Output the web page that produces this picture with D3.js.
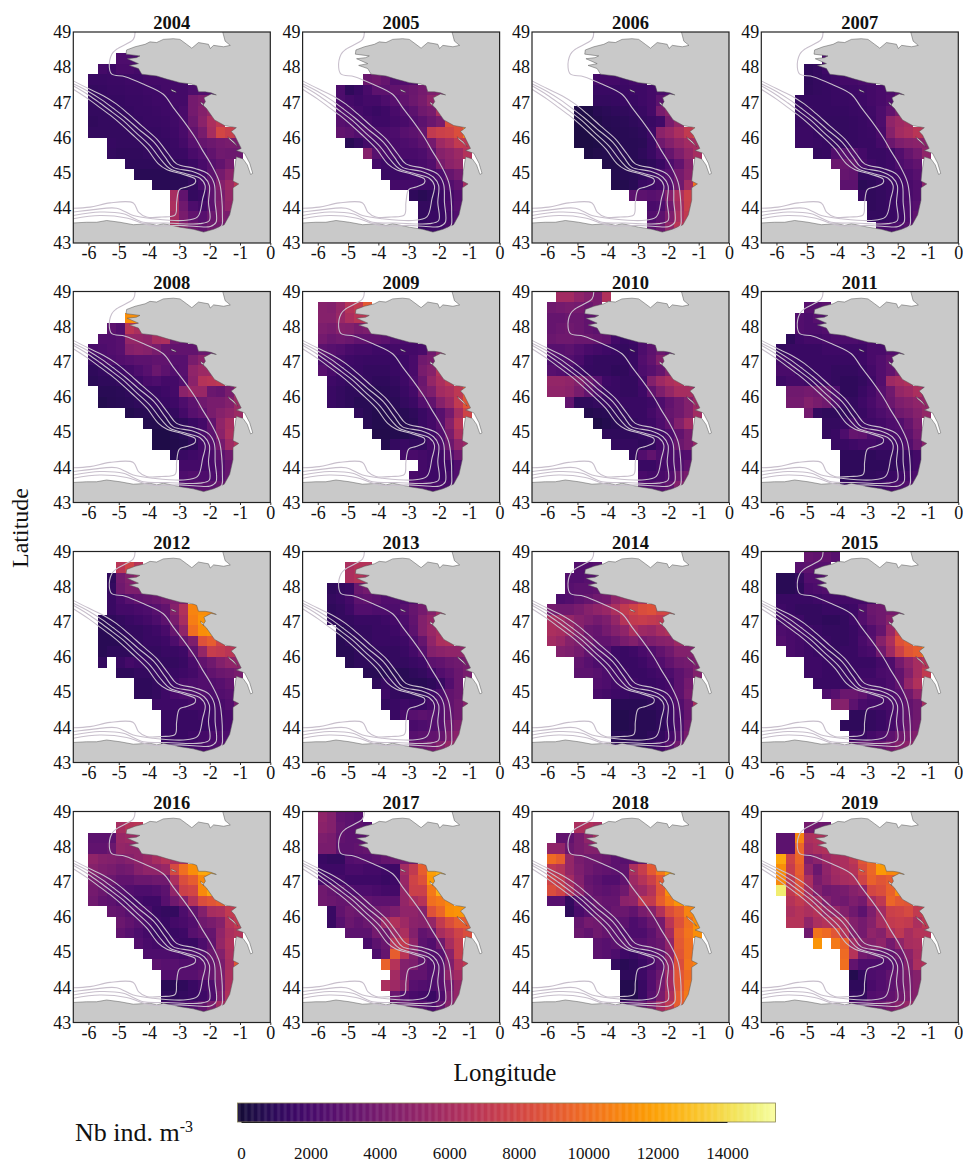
<!DOCTYPE html>
<html>
<head>
<meta charset="utf-8">
<script src="https://cdn.jsdelivr.net/npm/d3@7"></script>
<style>
  body { margin: 0; background: #fff; }
  text { font-family: "Liberation Serif", serif; fill: #111; }
</style>
</head>
<body>
<div id="chart"></div>
<script>
// declare constants
const FRAME_WIDTH = 963;
const FRAME_HEIGHT = 1165;
const PANEL_WIDTH = 197;
const PANEL_HEIGHT = 211;
const COL_LEFT = [73.3, 302.6, 532, 761.3];
const ROW_TOP = [32, 291.5, 551.5, 811.5];
const CELL = 0.3;
const UNIT = 100;
const _ = null;

const years = [2004, 2005, 2006, 2007, 2008, 2009, 2010, 2011, 2012, 2013, 2014, 2015, 2016, 2017, 2018, 2019];
const xTicks = [-6, -5, -4, -3, -2, -1, 0];
const yTicks = [43, 44, 45, 46, 47, 48, 49];
const legendTicks = [0, 2000, 4000, 6000, 8000, 10000, 12000, 14000];

// west edge of each grid column, north edge of each grid row
const lons = [-6, -5.7, -5.4, -5.1, -4.8, -4.5, -4.2, -3.9, -3.6, -3.3, -3, -2.7, -2.4, -2.1, -1.8, -1.5, -1.2];
const lats = [49, 48.7, 48.4, 48.1, 47.8, 47.5, 47.2, 46.9, 46.6, 46.3, 46, 45.7, 45.4, 45.1, 44.8, 44.5, 44.2, 43.9, 43.6];

const g2004 = [[],[],
[_,_,_,22,22,20],
[_,18,16,20,20,18],
[14,14,15,15,16,16,18,18,18,18,18],
[12,13,14,14,15,15,16,16,18,18,18,22,24,24],
[12,12,13,13,14,14,15,16,16,18,18,38,42,48],
[12,12,12,12,13,14,14,15,16,17,20,38,45,52],
[11,12,12,12,12,13,14,14,15,17,20,35,48,62,70],
[12,12,12,12,12,12,13,13,14,16,20,30,40,60,80,75,70],
[_,_,13,12,12,12,12,13,13,15,18,26,32,35,38,40,40],
[_,_,12,11,11,11,12,12,12,14,15,20,24,30,36,35,35],
[_,_,_,_,10,10,10,10,10,11,12,15,20,26,30,38],
[_,_,_,_,_,8,8,8,8,8,9,12,18,28,38,48],
[_,_,_,_,_,_,_,8,8,9,9,12,20,30,45,55,70],
[_,_,_,_,_,_,_,_,_,60,30,12,14,28,40,52],
[_,_,_,_,_,_,_,_,_,62,36,22,18,28,42,50],
[_,_,_,_,_,_,_,_,_,60,40,30,26,34,42,40],
[_,_,_,_,_,_,_,_,_,62,45,35,30,36,38,38]];

const g2005 = [[],[],[],[],
[_,_,_,_,_,34,36,32,24,24,25],
[_,_,22,10,14,20,28,28,30,32,34,38,42,44],
[_,_,22,18,16,18,18,22,26,30,35,40,50,62],
[_,_,24,22,18,16,14,16,20,24,28,36,40,62,85],
[_,_,26,24,20,18,16,16,18,20,24,28,34,40,85,88,90],
[_,_,30,28,24,24,20,20,22,26,28,32,72,76,78,85,105],
[_,_,_,8,12,18,20,20,20,22,24,28,38,56,62,72,70],
[_,_,_,_,_,46,26,20,20,20,20,22,28,46,50,55,65],
[_,_,_,_,_,_,18,16,15,16,18,20,24,40,48,52],
[_,_,_,_,_,_,_,14,15,16,17,18,18,22,32,38],
[_,_,_,_,_,_,_,_,18,18,18,17,17,18,24,30,60],
[_,_,_,_,_,_,_,_,_,_,10,8,10,14,18,25],
[_,_,_,_,_,_,_,_,_,_,_,12,12,14,20,26],
[_,_,_,_,_,_,_,_,_,_,_,12,14,14,18,24],
[_,_,_,_,_,_,_,_,_,_,_,14,16,16,20,24]];

const g2006 = [[],[],[],[],
[_,_,_,_,_,18,18,18,16,18,18],
[_,_,_,_,_,14,14,14,15,16,16,18,20,22],
[_,_,_,_,_,12,12,13,14,14,16,18,28,34],
[_,_,_,4,4,7,9,10,11,12,14,18,40,48],
[_,_,_,3,3,5,7,8,9,10,12,14,17,40,52],
[_,_,_,3,3,4,6,7,8,9,10,16,48,54,62,72,85],
[_,_,_,3,3,4,5,6,8,8,9,14,36,44,52,58,60],
[_,_,_,_,4,5,6,7,8,8,10,14,22,32,42,52,60],
[_,_,_,_,_,_,5,5,6,7,8,10,14,22,30,46],
[_,_,_,_,_,_,_,6,7,8,10,14,20,26,38,48],
[_,_,_,_,_,_,_,5,6,8,14,16,18,24,36,58,100],
[_,_,_,_,_,_,_,_,_,28,28,26,28,44,62,76],
[_,_,_,_,_,_,_,_,_,_,_,20,22,36,58,75],
[_,_,_,_,_,_,_,_,_,_,_,24,28,42,62,72],
[_,_,_,_,_,_,_,_,_,_,_,28,34,50,68,72]];

const g2007 = [[],[],
[_,_,_,_,_,22],
[_,_,_,10,12,16],
[_,_,_,10,12,14,16,18,18,20,20],
[_,_,_,11,12,13,14,15,16,17,18,20,22,28],
[_,_,12,13,13,13,14,14,15,16,18,20,24,38],
[_,_,13,14,13,13,13,13,14,15,17,22,30,40],
[_,_,14,14,13,12,12,12,13,14,16,22,50,56,60],
[_,_,15,15,13,12,12,12,13,14,15,20,46,58,62,68,66],
[_,_,15,15,14,13,13,13,13,14,14,18,34,42,46,48,48],
[_,_,_,_,12,13,24,26,24,18,14,14,16,24,32,38,50],
[_,_,_,_,_,_,34,34,30,20,16,14,16,22,26,30],
[_,_,_,_,_,_,_,32,30,12,12,14,16,18,22,26],
[_,_,_,_,_,_,_,28,28,9,10,13,15,16,20,24,48],
[_,_,_,_,_,_,_,_,_,14,11,12,14,16,20,24],
[_,_,_,_,_,_,_,_,_,_,11,12,14,16,22,26],
[_,_,_,_,_,_,_,_,_,_,12,12,14,16,22,30],
[_,_,_,_,_,_,_,_,_,_,_,20,20,22,26,34]];

const g2008 = [[],[],
[_,_,_,_,112,112],
[_,_,28,24,68,62],
[_,24,24,26,52,52,50,60,62,36,30],
[20,22,24,26,45,48,46,40,32,30,30,30,34,34],
[14,18,22,24,26,28,28,30,30,26,26,40,48,55],
[10,12,14,16,18,22,26,34,28,24,26,50,55,56],
[9,10,10,12,14,16,20,22,18,18,24,48,66,68,70],
[_,8,8,9,10,12,14,14,16,18,48,54,54,34,32,40,60],
[_,6,7,8,9,10,11,13,14,16,22,28,36,40,40,44,55],
[_,_,_,_,6,7,8,9,10,12,18,26,30,40,46,50,55],
[_,_,_,_,_,_,6,6,7,8,10,14,18,30,50,60],
[_,_,_,_,_,_,_,4,4,6,8,12,20,28,48,62],
[_,_,_,_,_,_,_,4,4,5,6,10,18,26,38,56,66],
[_,_,_,_,_,_,_,_,_,8,14,16,18,20,28,36],
[_,_,_,_,_,_,_,_,_,_,18,18,18,20,24,32],
[_,_,_,_,_,_,_,_,_,_,22,24,22,22,26,32],
[_,_,_,_,_,_,_,_,_,_,24,26,28,28,32,36]];

const g2009 = [[],
[46,44,52,66,72,90],
[46,46,54,62,68,70],
[42,40,46,44,40,42],
[38,34,36,34,30,30,30,28,24,22,20],
[28,26,24,20,18,18,16,16,18,18,18,20,36,50],
[22,22,18,16,15,14,14,14,14,16,20,36,40,62],
[26,20,16,14,14,12,12,12,14,16,20,40,46,66],
[_,16,14,12,12,12,10,10,12,16,22,34,52,62,70],
[_,14,12,10,10,9,8,9,10,14,18,36,42,58,62,70,90],
[_,14,12,10,8,8,8,8,9,12,15,24,30,46,55,72,88],
[_,_,_,_,10,8,6,6,7,8,10,14,18,26,38,60,78],
[_,_,_,_,_,8,6,6,6,7,9,14,18,26,46,68],
[_,_,_,_,_,_,5,5,6,6,8,12,16,24,40,62],
[_,_,_,_,_,_,_,6,12,14,12,12,18,22,34,50,56],
[_,_,_,_,_,_,_,_,_,18,20,18,16,16,24,36],
[_,_,_,_,_,_,_,_,_,_,_,18,16,16,16,24],
[_,_,_,_,_,_,_,_,_,_,20,18,16,16,18,24],
[_,_,_,_,_,_,_,_,_,_,24,22,20,20,20,24]];

const g2010 = [
[_,58,58,50,44,40,64],
[36,38,40,38,34,40],
[32,32,34,34,30,30],
[32,34,36,34,30,28],
[34,36,36,34,34,32,30,18,14,16,22],
[26,26,28,24,20,18,16,14,12,14,22,28,34,30],
[22,22,24,20,14,12,12,12,12,14,24,30,44,60],
[26,24,20,16,13,12,12,10,11,14,22,26,32,44],
[52,52,50,44,34,26,16,14,12,12,18,44,56,62,66],
[50,50,48,40,30,22,14,14,12,12,16,30,42,52,60,60,50],
[_,_,30,10,10,12,14,14,14,14,14,16,22,30,36,44,56],
[_,_,_,_,6,7,8,10,12,14,14,18,24,32,36,44,58],
[_,_,_,_,_,4,6,8,10,12,14,16,22,30,44,58],
[_,_,_,_,_,_,10,10,10,10,12,14,16,22,30,40],
[_,_,_,_,_,_,_,12,12,12,10,12,18,22,34,40,54],
[_,_,_,_,_,_,_,_,_,12,24,30,22,20,22,24],
[_,_,_,_,_,_,_,_,_,_,14,14,18,20,24,30],
[_,_,_,_,_,_,_,_,_,_,20,18,20,24,34,40],
[_,_,_,_,_,_,_,_,_,_,24,24,26,30,44,52]];

const g2011 = [[],
[_,_,_,26,26,28],
[_,_,24,22,26,24],
[_,_,24,22,22,24],
[_,10,16,18,18,20,22,22,22,20,20],
[12,14,14,14,14,16,16,16,16,16,20,20,24,26],
[18,16,14,14,14,14,14,14,14,16,20,24,30,38],
[20,20,16,14,14,14,12,12,12,14,18,24,30,40],
[16,18,18,16,16,14,12,10,10,12,16,24,56,60,64],
[_,36,36,38,36,32,22,10,10,14,18,26,36,52,56,62,52],
[_,38,38,44,40,36,24,14,12,16,20,26,34,42,46,50,52],
[_,_,_,38,12,10,10,10,12,14,18,22,26,36,40,46,52],
[_,_,_,_,_,12,12,14,18,16,16,18,22,24,32,42],
[_,_,_,_,_,12,14,22,32,30,22,20,20,22,28,38],
[_,_,_,_,_,_,14,14,16,18,18,16,16,18,24,34,48],
[_,_,_,_,_,_,_,10,10,10,10,12,12,12,14,18],
[_,_,_,_,_,_,_,10,10,10,10,10,11,12,14,18],
[_,_,_,_,_,_,_,10,10,10,11,12,14,16,18,22],
[_,_,_,_,_,_,_,14,14,14,14,16,20,22,24,24]];

const g2012 = [[],
[_,_,_,68,78,66],
[_,_,10,38,44,52],
[_,_,12,36,42,42],
[_,_,14,20,26,30,32,34,38,42,42],
[_,_,14,18,18,20,22,26,30,46,64,108,112,110],
[_,8,10,12,14,16,18,22,28,40,60,106,114,114],
[_,8,8,10,12,12,14,16,20,32,50,100,112,114],
[_,8,8,8,10,12,14,14,16,22,32,42,86,92,78],
[_,8,10,10,10,12,12,12,14,14,16,30,52,74,72,68,66],
[_,12,_,14,18,16,14,12,12,12,14,20,30,36,44,50,50],
[_,_,_,10,10,12,12,14,14,14,16,18,24,30,34,36,40],
[_,_,_,_,_,10,10,12,14,16,20,22,24,24,26,30],
[_,_,_,_,_,10,10,12,16,20,22,22,24,22,24,26],
[_,_,_,_,_,_,_,16,16,16,16,18,18,18,20,24,40],
[_,_,_,_,_,_,_,_,14,14,14,14,16,16,18,20],
[_,_,_,_,_,_,_,_,14,14,14,14,14,16,18,20],
[_,_,_,_,_,_,_,_,14,14,14,16,18,20,22,22],
[_,_,_,_,_,_,_,_,16,16,16,18,20,22,24,24]];

const g2013 = [[],
[_,_,_,62,66,66],
[_,_,_,62,66,62],
[_,10,12,14,34,38],
[_,12,14,18,28,30,28,24,24,22,22],
[_,10,12,16,24,24,22,22,22,26,32,38,46,58],
[_,10,12,12,14,14,14,16,18,22,30,44,52,54],
[_,_,8,10,12,12,14,14,16,20,28,44,54,60],
[_,_,8,10,10,12,14,14,14,16,22,32,50,62,64],
[_,_,8,8,10,10,12,12,12,14,18,26,44,48,50,50,52],
[_,_,_,8,10,10,10,10,12,12,14,16,28,30,34,36,40],
[_,_,_,_,_,8,8,8,8,8,10,12,16,24,28,34,40],
[_,_,_,_,_,_,10,14,10,8,8,8,10,14,24,34],
[_,_,_,_,_,_,_,16,12,10,10,10,16,22,30,34],
[_,_,_,_,_,_,_,12,14,16,14,14,18,24,30,36,48],
[_,_,_,_,_,_,_,_,14,20,26,28,26,24,30,36],
[_,_,_,_,_,_,_,_,_,_,20,22,24,26,36,42],
[_,_,_,_,_,_,_,_,_,_,26,28,30,32,42,48],
[_,_,_,_,_,_,_,_,_,_,32,34,38,44,52,52]];

const g2014 = [[],
[_,_,_,24,24,26],
[_,_,24,24,26,26],
[_,_,26,28,28,30],
[_,22,24,28,32,36,38,50,56,58,64],
[38,36,36,40,46,50,54,62,72,78,84,86,80,80],
[62,58,52,46,42,38,42,52,66,72,74,72,70,70],
[62,60,56,46,34,32,38,44,50,62,56,54,60,64],
[58,54,46,42,38,30,30,34,40,44,38,42,46,48,56],
[_,44,42,38,30,26,24,16,14,16,20,24,30,36,44,44,44],
[_,_,_,30,26,22,20,16,14,14,16,20,24,30,36,38,42],
[_,_,_,28,28,26,22,18,16,14,14,16,18,22,28,34,44],
[_,_,_,_,_,24,22,18,18,16,14,14,16,18,28,38],
[_,_,_,_,_,20,18,16,14,12,12,14,16,20,28,40],
[_,_,_,_,_,_,_,8,8,8,8,10,12,16,24,34,62],
[_,_,_,_,_,_,_,6,6,7,8,8,10,14,20,32],
[_,_,_,_,_,_,_,6,6,7,8,8,10,14,22,36],
[_,_,_,_,_,_,_,8,8,8,8,10,12,18,26,40],
[_,_,_,_,_,_,_,10,10,10,10,14,18,26,36,46]];

const g2015 = [
[_,_,_,32,30,30,26],
[_,_,26,28,26,26],
[8,8,12,24,24,26],
[8,8,10,20,22,24],
[14,14,14,14,16,18,18,18,18,18,18],
[16,14,12,12,12,14,14,14,16,24,34,36,38,40],
[18,18,16,12,12,10,10,12,16,24,32,36,46,60],
[22,20,18,16,14,12,12,12,14,18,24,32,54,76],
[24,20,18,16,14,14,12,12,14,20,26,46,62,86,92],
[_,20,18,16,14,14,12,14,14,18,20,36,56,76,88,92,108],
[_,_,_,16,16,14,14,14,14,14,14,18,22,38,50,60,66],
[_,_,_,16,16,14,14,14,14,16,16,20,22,30,44,60,72],
[_,_,_,_,14,14,14,14,16,18,18,18,22,30,52,64],
[_,_,_,_,_,22,26,34,34,30,22,20,22,26,36,50],
[_,_,_,_,_,_,44,46,28,20,18,18,20,24,30,36,60],
[_,_,_,_,_,_,_,_,10,10,12,14,18,24,30,36],
[_,_,_,_,_,_,_,10,10,10,12,14,18,26,34,38],
[_,_,_,_,_,_,_,_,14,14,18,22,28,36,40,44],
[_,_,_,_,_,_,_,_,28,30,30,32,38,44,48,48]];

const g2016 = [[],
[_,_,_,60,66,68],
[28,28,28,54,56,56],
[30,30,34,52,50,50],
[50,46,44,42,46,50,54,60,66,62,62],
[46,42,40,36,38,46,50,50,54,82,100,112,122,120],
[40,36,34,30,30,34,34,36,36,62,84,92,110,122],
[38,34,28,26,24,22,22,24,28,50,76,80,110,122],
[36,30,28,24,20,18,16,16,26,36,44,66,84,88,92],
[_,_,32,30,26,24,20,14,12,12,22,30,44,60,62,72,76],
[_,_,_,34,30,26,20,16,14,18,20,24,36,40,46,66,72],
[_,_,_,30,26,22,18,14,14,14,16,26,30,32,50,62,66],
[_,_,_,_,_,24,20,18,16,16,14,14,22,30,52,64],
[_,_,_,_,_,_,22,22,22,20,18,22,24,34,44,62],
[_,_,_,_,_,_,_,28,26,26,24,24,26,32,40,60,88],
[_,_,_,_,_,_,_,_,24,24,26,26,30,32,42,62],
[_,_,_,_,_,_,_,_,8,8,10,14,18,22,38,62],
[_,_,_,_,_,_,_,_,10,10,12,14,16,22,42,64],
[_,_,_,_,_,_,_,_,18,18,20,24,30,40,58,66]];

const g2017 = [
[50,44,30,28,26],
[48,44,32,28,28,24],
[42,40,30,28,28,28],
[40,40,28,28,30,32],
[14,12,12,24,26,26,28,32,34,38,36],
[16,16,16,20,20,18,18,16,16,58,72,92,118,124],
[20,18,18,16,16,16,16,14,16,54,78,86,116,128],
[36,32,28,24,22,22,20,18,18,52,76,76,104,124],
[36,34,32,32,30,30,28,28,28,52,60,66,100,104,110],
[_,14,30,36,34,32,36,38,42,50,50,46,86,96,112,114,116],
[_,14,26,34,30,34,38,56,64,56,48,46,52,72,84,92,92],
[_,_,_,28,28,28,38,36,56,62,44,30,34,60,68,78,84],
[_,_,_,_,_,20,28,34,68,72,50,28,24,36,60,74],
[_,_,_,_,_,_,22,32,92,68,46,30,24,26,48,74],
[_,_,_,_,_,_,_,94,66,44,42,30,24,26,42,64,72],
[_,_,_,_,_,_,_,_,58,42,30,30,24,28,50,58],
[_,_,_,_,_,_,_,62,56,48,26,24,22,26,38,52],
[_,_,_,_,_,_,_,_,34,24,20,18,14,22,42,52],
[_,_,_,_,_,_,_,_,32,30,28,26,22,30,46,52]];

const g2018 = [[],
[_,_,_,62,64,60],
[_,30,30,40,50,62],
[50,50,34,40,44,44],
[98,92,52,40,36,36,34,28,26,28,30],
[70,66,52,42,36,32,30,28,30,62,74,90,104,120],
[78,72,58,44,32,28,24,24,30,56,66,76,90,118],
[84,78,64,48,34,30,28,30,36,52,56,66,88,112],
[26,26,12,24,28,34,32,32,48,50,72,72,92,104,114],
[_,_,10,20,26,30,30,34,34,30,40,46,64,84,92,108,112],
[_,_,_,32,38,36,30,28,28,22,26,34,38,68,86,100,112],
[_,_,_,34,30,36,32,28,24,22,22,28,38,58,92,102,112],
[_,_,_,_,_,28,26,28,28,26,26,30,34,50,90,100],
[_,_,_,_,_,28,26,22,16,14,18,24,30,48,88,100],
[_,_,_,_,_,_,_,12,8,10,14,20,28,48,84,102,108],
[_,_,_,_,_,_,_,_,10,10,16,24,34,56,88,98],
[_,_,_,_,_,_,_,_,6,6,14,24,38,58,88,102],
[_,_,_,_,_,_,_,_,6,6,14,26,40,62,92,104],
[_,_,_,_,_,_,_,_,22,26,30,40,58,70,92,102]];

const g2019 = [[],
[_,_,_,38,36,34],
[28,28,108,62,64,62],
[28,28,96,58,62,64],
[122,78,96,42,48,56,60,62,70,88,98],
[112,74,92,50,34,50,58,62,66,84,96,116,110,110],
[110,70,88,62,40,48,56,60,62,78,94,88,92,108],
[146,72,84,60,44,36,38,40,46,50,80,84,94,110],
[_,66,72,66,58,44,38,36,42,38,60,70,96,90,88],
[_,62,66,62,66,56,52,44,36,28,42,58,76,78,82,72,78],
[_,66,66,50,62,66,64,60,44,38,46,60,72,74,72,62,70],
[_,_,_,36,102,98,88,66,44,38,50,46,62,70,60,66,66],
[_,_,_,_,114,_,104,94,58,46,44,50,38,50,60,62],
[_,_,_,_,_,_,_,98,66,38,34,30,30,36,48,60],
[_,_,_,_,_,_,_,100,30,22,22,22,24,30,44,62,66],
[_,_,_,_,_,_,_,_,6,12,22,24,30,34,40,46],
[_,_,_,_,_,_,_,_,10,10,20,24,28,34,40,46],
[_,_,_,_,_,_,_,_,12,12,24,26,30,36,42,46],
[_,_,_,_,_,_,_,_,24,26,30,34,40,46,52,52]];

const grids = [g2004, g2005, g2006, g2007, g2008, g2009, g2010, g2011, g2012, g2013, g2014, g2015, g2016, g2017, g2018, g2019];

// coast [lon, lat], east end of the Channel round to Spain
const coast = [[-1.57,49],[-1.49,48.74],[-1.32,48.62],[-1.54,48.58],[-1.87,48.62],[-1.98,48.53],[-2.04,48.65],[-2.37,48.7],[-2.59,48.54],[-2.76,48.65],[-2.98,48.79],[-3.2,48.81],[-3.53,48.79],[-3.75,48.7],[-3.97,48.72],[-4.13,48.65],[-4.46,48.58],[-4.74,48.49],[-4.76,48.37],[-4.3,48.32],[-4.42,48.27],[-4.72,48.24],[-4.35,48.1],[-4.65,48.05],[-4.35,47.96],[-4.24,47.8],[-3.75,47.75],[-3.42,47.66],[-3.15,47.6],[-2.98,47.56],[-2.6,47.52],[-2.43,47.47],[-2.37,47.3],[-2.15,47.3],[-1.95,47.27],[-1.78,47.21],[-1.95,47.24],[-2.19,47.13],[-2.14,47.02],[-2.22,46.92],[-2.11,46.83],[-1.84,46.5],[-1.51,46.34],[-1.12,46.28],[-1.29,46.17],[-1.18,46.07],[-0.96,45.69],[-1.12,45.63],[-0.85,45.55],[-0.68,45.27],[-0.58,44.98],[-0.65,44.95],[-0.76,45.22],[-0.9,45.39],[-1.12,45.45],[-1.2,45.03],[-1.23,44.76],[-1.04,44.68],[-1.23,44.57],[-1.23,44.22],[-1.34,43.8],[-1.52,43.52],[-1.87,43.39],[-2.2,43.31],[-2.54,43.39],[-2.98,43.45],[-3.53,43.55],[-3.75,43.5],[-3.97,43.55],[-4.52,43.52],[-4.96,43.59],[-5.4,43.64],[-5.73,43.59],[-6.06,43.59],[-6.5,43.57]];
const landCorners = [[-6.5,43],[0,43],[0,49]];
const islands = [
  [[-3.28,47.37],[-3.12,47.31],[-3.1,47.28],[-3.25,47.32]],
  [[-2.3,47.02],[-2.22,46.96],[-2.2,46.9],[-2.28,46.96]],
  [[-1.4,46.02],[-1.2,45.88],[-1.07,45.74],[-1.2,45.84],[-1.35,45.95]]
];

// isobaths
const shelfBreak = [[-4.46,49],[-4.52,48.79],[-5.07,48.51],[-5.23,48.37],[-5.31,47.99],[-5.23,47.8],[-4.79,47.73],[-4.19,47.52],[-3.53,47.23],[-3.2,46.85],[-2.87,46.48],[-2.48,46],[-2.26,45.67],[-1.93,45.2],[-1.68,44.73],[-1.6,44.26],[-1.58,43.78],[-1.6,43.5],[-1.82,43.36]];
const iso1 = [[-6.5,47.37],[-6,47.09],[-5.62,46.85],[-5.23,46.6],[-4.9,46.36],[-4.57,46.1],[-4.08,45.69],[-3.69,45.25],[-3.42,45.09],[-2.87,44.95],[-2.48,44.82],[-2.48,44.71],[-2.76,44.59],[-3,44.52],[-3.09,44.16],[-3.14,43.8],[-3.58,43.74],[-4.08,43.74],[-4.35,43.88],[-4.52,44.14],[-5.29,44.14],[-5.95,44.02],[-6.5,43.99]];
const iso2 = [[-6.5,47.47],[-6,47.21],[-5.62,46.98],[-5.23,46.73],[-4.85,46.48],[-4.46,46.16],[-3.97,45.77],[-3.58,45.34],[-3.31,45.11],[-2.76,44.96],[-2.32,44.84],[-2.15,44.63],[-2.23,44.26],[-2.4,43.74],[-2.87,43.64],[-3.86,43.69],[-4.52,43.78],[-5.07,43.99],[-5.84,43.95],[-6.5,43.88]];
const iso3 = [[-6.5,47.53],[-6,47.31],[-5.56,47.07],[-5.18,46.83],[-4.79,46.57],[-4.35,46.24],[-3.83,45.86],[-3.47,45.44],[-3.2,45.15],[-2.59,45.04],[-2.18,44.87],[-2.01,44.63],[-2.04,44.16],[-2.01,43.64],[-2.32,43.55],[-3.42,43.57],[-4.19,43.59],[-4.85,43.83],[-5.62,43.88],[-6.5,43.78]];
const iso4 = [[-6.5,47.61],[-6,47.39],[-5.51,47.19],[-5.07,46.95],[-4.68,46.67],[-4.24,46.33],[-3.75,45.96],[-3.36,45.53],[-3.09,45.25],[-2.48,45.12],[-2.04,44.96],[-1.85,44.68],[-1.82,44.16],[-1.79,43.59],[-1.98,43.47],[-2.43,43.47],[-2.98,43.5],[-3.97,43.5],[-4.74,43.71],[-5.62,43.78],[-6.5,43.69]];
const isobaths = [shelfBreak, iso1, iso2, iso3, iso4];

const FRAME = d3.select("#chart")
  .append("svg")
    .attr("width", FRAME_WIDTH)
    .attr("height", FRAME_HEIGHT);

// scales, every panel has the same ones
const X_SCALE = d3.scaleLinear().domain([-6.5, 0]).range([0, PANEL_WIDTH]);
const Y_SCALE = d3.scaleLinear().domain([43, 49]).range([PANEL_HEIGHT, 0]);
// inferno without its near black start, as in the colour bar
const COLOR = d3.scaleSequential((t) => d3.interpolateInferno(0.1 + 0.9 * t)).domain([0, 15500]);

const lineGen = d3.line().x((d) => X_SCALE(d[0])).y((d) => Y_SCALE(d[1]));
const smoothLine = d3.line().x((d) => X_SCALE(d[0])).y((d) => Y_SCALE(d[1])).curve(d3.curveCatmullRom.alpha(0.5));

FRAME.append("defs").append("clipPath").attr("id", "panel-clip")
  .append("rect").attr("width", PANEL_WIDTH).attr("height", PANEL_HEIGHT);

function build_panel(year, grid, i) {
  const col = i % 4;
  const row = Math.floor(i / 4);
  const panel = FRAME.append("g")
    .attr("transform", "translate(" + COL_LEFT[col] + "," + ROW_TOP[row] + ")");

  // the source is a soft scan, so the map layer gets a touch of blur
  const inner = panel.append("g")
    .attr("clip-path", "url(#panel-clip)")
    .append("g")
      .style("filter", "blur(0.4px)");

  // flatten the grid into cells
  const cells = [];
  grid.forEach((values, r) => {
    values.forEach((v, c) => {
      if (v !== null) cells.push({lon: lons[c], lat: lats[r], value: v * UNIT});
    });
  });

  inner.selectAll(".cell")
    .data(cells)
    .enter()
    .append("rect")
      .attr("class", "cell")
      .attr("x", (d) => X_SCALE(d.lon))
      .attr("y", (d) => Y_SCALE(d.lat))
      .attr("width", (d) => X_SCALE(d.lon + CELL) - X_SCALE(d.lon))
      .attr("height", (d) => Y_SCALE(d.lat - CELL) - Y_SCALE(d.lat))
      .attr("fill", (d) => COLOR(d.value))
      .attr("shape-rendering", "crispEdges");

  inner.append("path")
    .attr("d", lineGen(coast.concat(landCorners)) + "Z")
    .attr("fill", "#c9c9c9");

  inner.append("path")
    .attr("d", lineGen(coast))
    .attr("fill", "none")
    .attr("stroke", "#555")
    .attr("stroke-width", 0.5);

  inner.selectAll(".island")
    .data(islands)
    .enter()
    .append("path")
      .attr("class", "island")
      .attr("d", (d) => lineGen(d) + "Z")
      .attr("fill", "#fff")
      .attr("stroke", "#333")
      .attr("stroke-width", 0.4);

  inner.selectAll(".isobath")
    .data(isobaths)
    .enter()
    .append("path")
      .attr("class", "isobath")
      .attr("d", (d) => smoothLine(d))
      .attr("fill", "none")
      .attr("stroke", "#c8bfcc")
      .attr("stroke-width", 1.1);

  // axes
  const xAxis = panel.append("g")
    .attr("transform", "translate(0," + PANEL_HEIGHT + ")")
    .call(d3.axisBottom(X_SCALE).tickValues(xTicks).tickFormat((d) => String(d)).tickSize(2.5).tickPadding(1));
  const yAxis = panel.append("g")
    .call(d3.axisLeft(Y_SCALE).tickValues(yTicks).tickFormat((d) => String(d)).tickSize(0).tickPadding(2));
  [xAxis, yAxis].forEach((a) => {
    a.attr("font-family", null).attr("font-size", null);
    a.selectAll("text").style("font-size", "18px").style("font-family", "Liberation Serif");
    a.selectAll("line").attr("stroke", "#333");
    a.select(".domain").attr("stroke", "none");
  });

  panel.append("rect")
    .attr("width", PANEL_WIDTH)
    .attr("height", PANEL_HEIGHT)
    .attr("fill", "none")
    .attr("stroke", "#222")
    .attr("stroke-width", 1.2);

  panel.append("text")
    .attr("x", PANEL_WIDTH / 2)
    .attr("y", -3)
    .attr("text-anchor", "middle")
    .style("font-size", "18.5px")
    .style("font-weight", "bold")
    .text(year);
}

years.forEach((y, i) => build_panel(y, grids[i], i));

// axis titles
FRAME.append("text")
  .attr("transform", "translate(28,528) rotate(-90)")
  .attr("text-anchor", "middle")
  .style("font-size", "24px")
  .text("Latitude");

FRAME.append("text")
  .attr("x", 505)
  .attr("y", 1081)
  .attr("text-anchor", "middle")
  .style("font-size", "25px")
  .text("Longitude");

// colour bar
const LEG_SCALE = d3.scaleLinear().domain([0, 14000]).range([241, 727]);
const LEG_TOP = 1103;
const LEG_HEIGHT = 19;
const legendSteps = d3.range(-100, 15400, 25);

FRAME.selectAll(".legend-step")
  .data(legendSteps)
  .enter()
  .append("rect")
    .attr("class", "legend-step")
    .attr("x", (d) => LEG_SCALE(d))
    .attr("y", LEG_TOP)
    .attr("width", LEG_SCALE(25) - LEG_SCALE(0) + 0.4)
    .attr("height", LEG_HEIGHT)
    .attr("fill", (d) => COLOR(Math.max(d, 0)));

FRAME.append("rect")
  .attr("x", LEG_SCALE(-100))
  .attr("y", LEG_TOP)
  .attr("width", LEG_SCALE(15400) - LEG_SCALE(-100))
  .attr("height", LEG_HEIGHT)
  .attr("fill", "none")
  .attr("stroke", "#8a8458")
  .attr("stroke-width", 0.8);

const legendAxis = FRAME.append("g")
  .attr("transform", "translate(0," + (LEG_TOP + LEG_HEIGHT) + ")")
  .call(d3.axisBottom(LEG_SCALE).tickValues(legendTicks).tickFormat((d) => String(d)).tickSize(0).tickPadding(25));
legendAxis.attr("font-family", null).attr("font-size", null);
legendAxis.selectAll("text").style("font-size", "17px").style("font-family", "Liberation Serif");
legendAxis.select(".domain").attr("stroke", "#222");

const legendTitle = FRAME.append("text")
  .attr("x", 75)
  .attr("y", 1141)
  .style("font-size", "26px")
  .text("Nb ind. m");
legendTitle.append("tspan")
  .attr("dy", -9)
  .style("font-size", "16px")
  .text("-3");
</script>
</body>
</html>
